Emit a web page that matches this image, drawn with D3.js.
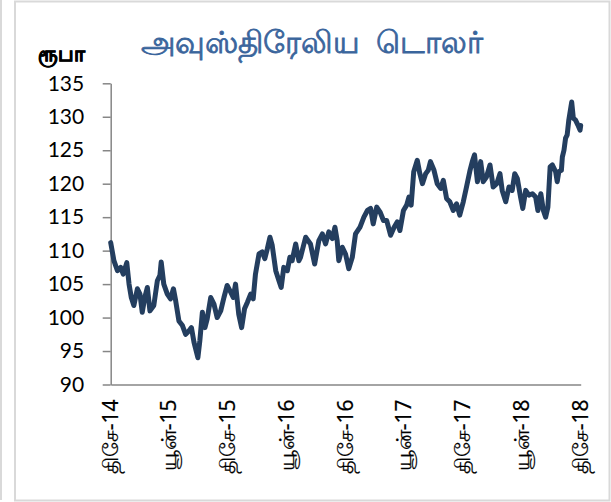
<!DOCTYPE html>
<html>
<head>
<meta charset="utf-8">
<script src="https://cdn.jsdelivr.net/npm/d3@7"></script>
<style>
  body { margin: 0; background: #ffffff; }
  svg { display: block; }
</style>
</head>
<body>
<div id="vis"></div>
<script>
const FRAME_HEIGHT = 502;
const FRAME_WIDTH = 611;
const MARGINS = {left: 110.7, right: 30.3, top: 83.3, bottom: 117.5};
const VIS_HEIGHT = FRAME_HEIGHT - MARGINS.top - MARGINS.bottom;
const VIS_WIDTH = FRAME_WIDTH - MARGINS.left - MARGINS.right;

const TITLE = "அவுஸ்திரேலிய  டொலர்";
const Y_LABEL = "ரூபா";

// AUD rate in rupees
const DATES = [
  "2014-12-01","2014-12-11","2014-12-22","2015-01-01","2015-01-09","2015-01-20","2015-01-27",
  "2015-02-03","2015-02-11","2015-02-22","2015-03-02","2015-03-09","2015-03-17","2015-03-25",
  "2015-04-02","2015-04-14","2015-04-25","2015-05-03","2015-05-07","2015-05-15","2015-05-26",
  "2015-06-05","2015-06-14","2015-06-21","2015-07-01","2015-07-12","2015-07-22","2015-08-01",
  "2015-08-09","2015-08-17","2015-08-29","2015-09-04","2015-09-12","2015-09-20","2015-09-27",
  "2015-10-08","2015-10-18","2015-10-28","2015-11-08","2015-11-18","2015-11-28","2015-12-09",
  "2015-12-17","2015-12-24","2016-01-03","2016-01-12","2016-01-21","2016-01-30","2016-02-09",
  "2016-02-17","2016-02-24","2016-03-06","2016-03-16","2016-03-24","2016-04-01","2016-04-09",
  "2016-04-16","2016-04-27","2016-05-07","2016-05-14","2016-05-22","2016-06-02","2016-06-10",
  "2016-06-17","2016-06-28","2016-07-08","2016-07-13","2016-07-29","2016-08-13","2016-08-26",
  "2016-09-08","2016-09-19","2016-09-29","2016-10-09","2016-10-20","2016-10-28","2016-11-04",
  "2016-11-09","2016-11-20","2016-11-30","2016-12-10","2016-12-21","2016-12-31","2017-01-14",
  "2017-01-26","2017-02-06","2017-02-16","2017-02-24","2017-03-07","2017-03-17","2017-03-28",
  "2017-04-07","2017-04-19","2017-04-30","2017-05-10","2017-05-18","2017-05-29","2017-06-08",
  "2017-06-15","2017-06-22","2017-06-30","2017-07-11","2017-07-19","2017-07-27","2017-08-06",
  "2017-08-14","2017-08-21","2017-09-01","2017-09-11","2017-09-22","2017-09-30","2017-10-10",
  "2017-10-20","2017-10-31","2017-11-10","2017-11-20","2017-12-01","2017-12-11","2017-12-22",
  "2017-12-29","2018-01-05","2018-01-14","2018-01-24","2018-02-01","2018-02-11","2018-02-22",
  "2018-03-04","2018-03-15","2018-03-25","2018-04-01","2018-04-12","2018-04-22","2018-05-02",
  "2018-05-10","2018-05-18","2018-05-28","2018-06-04","2018-06-13","2018-06-23","2018-07-04",
  "2018-07-14","2018-07-21","2018-07-30","2018-08-07","2018-08-14","2018-08-21","2018-08-28",
  "2018-09-04","2018-09-14","2018-09-19","2018-09-24","2018-10-02","2018-10-05","2018-10-10",
  "2018-10-15","2018-10-20","2018-10-25","2018-11-03","2018-11-08","2018-11-15","2018-11-22",
  "2018-11-29","2018-12-01"
];
const RATE = [
  111.2,108.5,107.0,107.5,106.5,108.2,105.0,
  103.0,101.8,104.3,103.5,100.8,103.0,104.5,
  101.0,101.8,105.5,106.3,108.3,105.0,103.5,
  102.8,104.3,102.5,99.5,98.8,97.5,98.0,
  98.5,96.3,94.0,96.5,100.8,98.5,99.8,
  103.0,102.0,100.0,101.0,103.0,104.8,103.8,
  103.0,105.0,100.5,98.5,101.3,102.3,103.5,
  102.8,106.5,109.5,109.8,108.8,110.3,112.0,
  110.8,107.0,105.5,104.5,107.5,107.0,109.0,
  108.5,111.0,108.5,109.0,112.0,111.0,108.0,
  111.5,112.5,111.0,112.8,111.8,113.5,111.5,
  108.5,110.5,109.5,107.3,109.0,112.5,113.5,
  115.0,116.0,116.3,114.0,116.5,115.8,114.5,
  114.5,112.3,113.5,114.3,113.0,116.0,116.8,
  118.0,116.8,121.8,123.5,121.5,120.0,121.5,
  122.0,123.3,122.0,120.0,119.3,120.5,117.8,
  117.3,116.0,117.0,115.3,117.3,119.5,122.0,
  123.3,124.3,120.3,123.3,120.3,121.0,122.8,
  119.5,120.0,121.5,119.0,117.3,119.5,119.0,
  121.5,120.8,118.0,116.3,119.0,118.3,118.5,
  118.0,116.0,118.5,116.0,115.0,116.5,122.5,
  122.8,121.8,120.3,121.8,122.0,124.0,125.0,
  126.8,127.3,129.5,132.2,129.8,129.5,128.8,
  128.0,128.7
];

const Y_TICKS = [90, 95, 100, 105, 110, 115, 120, 125, 130, 135];
const X_TICK_DATES = ["2014-12-01","2015-06-01","2015-12-01","2016-06-01","2016-12-01",
                      "2017-06-01","2017-12-01","2018-06-01","2018-12-01"];
const X_TICK_LABELS = ["திசே-14","யூன்-15","திசே-15","யூன்-16","திசே-16",
                       "யூன்-17","திசே-17","யூன்-18","திசே-18"];

const parseDate = d3.timeParse("%Y-%m-%d");
const data = DATES.map((d, i) => ({date: parseDate(d), value: RATE[i]}));
const tickDates = X_TICK_DATES.map(parseDate);

const FRAME = d3.select("#vis")
                .append("svg")
                  .attr("height", FRAME_HEIGHT)
                  .attr("width", FRAME_WIDTH)
                  .attr("class", "frame");

// chart border + edge of the neighbouring box
FRAME.append("line")
      .attr("x1", 1).attr("x2", 1)
      .attr("y1", 0).attr("y2", 500)
      .attr("stroke", "#d9d9d9").attr("stroke-width", 2);
FRAME.append("rect")
      .attr("x", 15).attr("y", 1.5)
      .attr("width", 594.5).attr("height", 499)
      .attr("fill", "none")
      .attr("stroke", "#d9d9d9").attr("stroke-width", 2);

const X_SCALE = d3.scaleTime()
                  .domain([tickDates[0], tickDates[tickDates.length - 1]])
                  .range([0, VIS_WIDTH]);

const Y_SCALE = d3.scaleLinear()
                  .domain([90, 135])
                  .range([VIS_HEIGHT, 0]);

// y axis
const yAxis = FRAME.append("g")
      .attr("transform", "translate(" + MARGINS.left + "," + MARGINS.top + ")")
      .call(d3.axisLeft(Y_SCALE).tickValues(Y_TICKS).tickSize(8).tickSizeOuter(0).tickPadding(18.5));
yAxis.selectAll("path, line").attr("stroke", "#868686").attr("stroke-width", 1.5);
yAxis.selectAll("text")
      .attr("font-family", "Lato, 'Open Sans', sans-serif")
      .attr("font-size", "21px")
      .attr("fill", "#000");

// x axis, labels turned on their side
const xAxis = FRAME.append("g")
      .attr("transform", "translate(" + MARGINS.left + "," + (VIS_HEIGHT + MARGINS.top) + ")")
      .call(d3.axisBottom(X_SCALE).tickValues(tickDates)
              .tickFormat((d, i) => X_TICK_LABELS[i]).tickSize(0).tickSizeOuter(0));
xAxis.select("path").attr("stroke", "#868686").attr("stroke-width", 1.5);
xAxis.selectAll("text")
      .attr("font-family", "'Noto Sans', sans-serif")
      .attr("font-size", "21px")
      .attr("fill", "#000")
      .attr("stroke", "#000")
      .attr("stroke-width", 0.2)
      .attr("text-anchor", "end")
      .attr("transform", "rotate(-90)")
      .attr("x", -15)
      .attr("y", 0)
      .attr("dy", "0.3em");

// the rate line
const line = d3.line()
      .x((d) => X_SCALE(d.date) + MARGINS.left)
      .y((d) => Y_SCALE(d.value) + MARGINS.top)
      .curve(d3.curveLinear);

FRAME.append("path")
      .datum(data)
      .attr("d", line)
      .attr("fill", "none")
      .attr("stroke", "#243e5f")
      .attr("stroke-width", 5)
      .attr("stroke-linejoin", "round")
      .attr("stroke-linecap", "round");

// title and unit
FRAME.append("text")
      .attr("x", 312)
      .attr("y", 53)
      .attr("text-anchor", "middle")
      .attr("font-family", "'Noto Sans', sans-serif")
      .attr("font-size", "31px")
      .attr("fill", "#3a659c")
      .attr("stroke", "#3a659c")
      .attr("stroke-width", 0.8)
      .style("white-space", "pre")
      .text(TITLE);

FRAME.append("text")
      .attr("x", 38)
      .attr("y", 61)
      .attr("font-family", "'Noto Sans', sans-serif")
      .attr("font-size", "21px")
      .attr("font-weight", "bold")
      .attr("fill", "#000")
      .attr("stroke", "#000")
      .attr("stroke-width", 0.7)
      .text(Y_LABEL);
</script>
</body>
</html>
